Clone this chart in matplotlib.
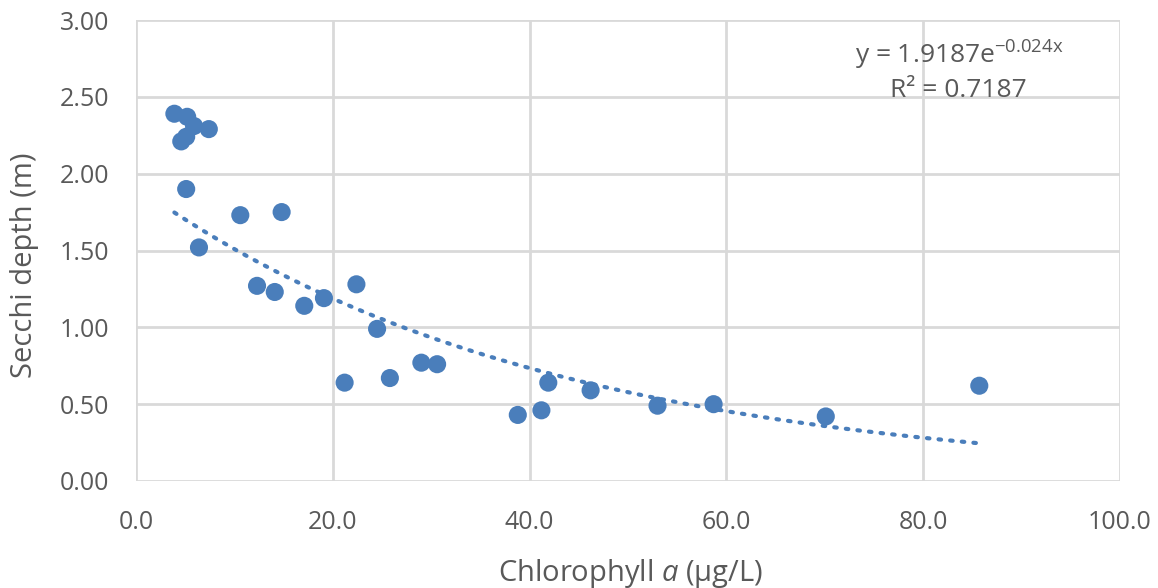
import numpy as np
import matplotlib
matplotlib.use("Agg")
import matplotlib.pyplot as plt

plt.rcParams['font.family'] = ['Open Sans', 'DejaVu Sans']
plt.rcParams['mathtext.fontset'] = 'custom'
plt.rcParams['mathtext.rm'] = 'Open Sans'
plt.rcParams['mathtext.it'] = 'Open Sans:italic'

chl = [3.9, 5.2, 5.9, 7.4, 4.6, 5.1, 5.1, 6.4, 10.6, 14.8, 12.3, 14.1, 17.1,
       19.1, 22.4, 24.5, 21.2, 25.8, 29.0, 30.6, 38.8, 41.2, 41.9, 46.2,
       53.0, 58.7, 70.1, 85.7]
secchi = [2.39, 2.37, 2.31, 2.29, 2.21, 2.24, 1.90, 1.52, 1.73, 1.75, 1.27,
          1.23, 1.14, 1.19, 1.28, 0.99, 0.64, 0.67, 0.77, 0.76, 0.43, 0.46,
          0.64, 0.59, 0.49, 0.50, 0.42, 0.62]

# exponential trendline reported in the chart
coef_a = 1.9187
coef_b = -0.024

grey = '#595959'
blue = '#4a7ebb'

fig = plt.figure(figsize=(11.58, 5.88), dpi=100)
ax = fig.add_axes([136 / 1158, 1 - 481 / 588, 984 / 1158, 461 / 588])

xt = np.linspace(min(chl), max(chl), 200)
ax.plot(xt, coef_a * np.exp(coef_b * xt), color=blue, linestyle=(0, (0.6, 2.2)),
        linewidth=3, dash_capstyle='round', zorder=2)
ax.scatter(chl, secchi, s=170, color=blue, edgecolors='none', zorder=3)

ax.set_xlim(0, 100)
ax.set_ylim(0, 3)
ax.set_xticks(np.arange(0, 101, 20))
ax.set_yticks(np.arange(0, 3.01, 0.5))
ax.set_xticklabels([f"{v:.1f}" for v in np.arange(0, 101, 20)])
ax.set_yticklabels([f"{v:.2f}" for v in np.arange(0, 3.01, 0.5)])
ax.grid(True, color='#d9d9d9', linewidth=2)
ax.set_axisbelow(True)
for s in ax.spines.values():
    s.set_visible(False)
ax.tick_params(length=0, labelsize=18, labelcolor=grey)
ax.tick_params(axis='x', pad=21)
ax.tick_params(axis='y', pad=19)

fig.text(630 / 1158, 1 - 573 / 588, r'Chlorophyll $\mathit{a}$ (μg/L)', fontsize=21,
         color=grey, ha='center', va='center')
fig.text(25 / 1158, 1 - 265 / 588, 'Secchi depth (m)', fontsize=21, color=grey,
         ha='center', va='center', rotation=90)

ax.text(0.837, 0.924, r'y = 1.9187e$^{\mathregular{-0.024x}}$', transform=ax.transAxes,
        fontsize=19, color=grey, ha='center', va='center')
ax.text(0.836, 0.848, 'R² = 0.7187', transform=ax.transAxes,
        fontsize=19, color=grey, ha='center', va='center')

fig.savefig('out.png', dpi=100)
